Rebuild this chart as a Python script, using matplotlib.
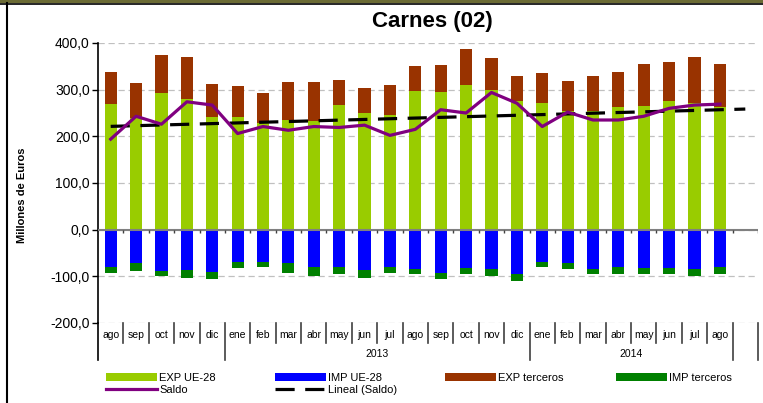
import numpy as np
import matplotlib
matplotlib.use("Agg")
import matplotlib.pyplot as plt
from matplotlib.patches import Rectangle
from matplotlib.lines import Line2D
from matplotlib.ticker import FuncFormatter
from matplotlib.transforms import blended_transform_factory

# ---- data (millones de euros), ago 2012 .. ago 2014 ----
months = ["ago", "sep", "oct", "nov", "dic",
          "ene", "feb", "mar", "abr", "may", "jun", "jul", "ago", "sep", "oct", "nov", "dic",
          "ene", "feb", "mar", "abr", "may", "jun", "jul", "ago", ""]
year_labels = ["", "2013", "2014", ""]
year_starts = [0, 5, 17, 25, 26]

exp_ue = [269, 239, 292, 281, 241, 241, 228, 236, 233, 267, 250, 245, 297,
          295, 310, 299, 275, 271, 254, 254, 262, 264, 275, 271, 262]
exp_terceros = [69, 75, 82, 89, 71, 66, 64, 80, 83, 53, 53, 65, 53,
                58, 77, 69, 54, 64, 64, 75, 75, 91, 84, 99, 93]
imp_ue = [-80, -72, -88, -86, -90, -69, -69, -72, -80, -80, -86, -80, -84,
          -92, -82, -84, -94, -69, -71, -84, -80, -82, -82, -84, -80]
imp_terceros = [-12, -16, -12, -17, -15, -14, -12, -20, -20, -16, -17, -12, -12,
                -13, -12, -16, -15, -12, -14, -12, -16, -14, -14, -16, -14]
saldo = [194, 243, 226, 274, 267, 206, 221, 213, 221, 219, 224, 202, 215,
         257, 250, 294, 271, 221, 252, 235, 235, 243, 260, 267, 269]

plt.rcParams["font.family"] = ["Liberation Sans", "DejaVu Sans"]

W, H = 763, 403
fig = plt.figure(figsize=(W / 100, H / 100), dpi=100)
ax = fig.add_axes([98 / W, (H - 323) / H, 660 / W, 280 / H])

x = np.arange(len(exp_ue))
bw = 0.48
b1 = ax.bar(x, exp_ue, bw, color="#99CC00", zorder=2)
b2 = ax.bar(x, imp_ue, bw, color="#0000FF", zorder=2)
b3 = ax.bar(x, exp_terceros, bw, bottom=exp_ue, color="#993300", zorder=2)
b4 = ax.bar(x, imp_terceros, bw, bottom=imp_ue, color="#008000", zorder=2)

# linear trend of saldo, extended one period forward (Excel style)
xt = np.arange(len(months))
coef = np.polyfit(x, saldo, 1)
l_trend, = ax.plot(xt, np.polyval(coef, xt), color="black", lw=2.3,
                   ls=(0, (6, 3.3)), zorder=4)
l_saldo, = ax.plot(x, saldo, color="#800080", lw=2.3, zorder=5)

ax.set_xlim(-0.5, len(months) - 0.5)
ax.set_ylim(-200, 400)
ax.set_yticks(range(-200, 401, 100))
ax.yaxis.set_major_formatter(FuncFormatter(lambda v, p: f"{v:.1f}".replace(".", ",")))
ax.yaxis.grid(True, color="#C0C0C0", ls=(0, (5, 3)), lw=0.9, zorder=0)
ax.set_axisbelow(True)
ax.axhline(0, color="#808080", lw=1.5, zorder=3)
ax.set_xticks([])
ax.tick_params(axis="y", length=4, width=1, labelsize=10, pad=2)
for s in ["top", "right", "bottom"]:
    ax.spines[s].set_visible(False)
ax.spines["left"].set_linewidth(1.2)

# small category ticks on the zero line
bounds = np.arange(len(months) + 1) - 0.5
ax.vlines(bounds[1:], -8, 0, color="#404040", lw=1, zorder=3)

# two-level category axis under the plot
tr = blended_transform_factory(ax.transData, ax.transAxes)
for i, m in enumerate(months):
    ax.text(i, -0.043, m, transform=tr, fontsize=7.5, ha="center", va="center")
for i, lab in enumerate(year_labels):
    mid = (year_starts[i] + year_starts[i + 1]) / 2 - 0.5
    ax.text(mid, -0.111, lab, transform=tr, fontsize=7.5, ha="center", va="center")
for b in bounds:
    low = -0.132 if (b + 0.5) in year_starts else -0.0714
    ax.plot([b, b], [0, low], transform=tr, color="#404040" if b > 0 else "black",
            lw=1.2, clip_on=False)

# title, y label
fig.text(432 / W, 1 - 22 / H, "Carnes (02)", fontsize=16, fontweight="bold",
         ha="center", va="center")
fig.text(22 / W, 1 - 195 / H, "Millones de Euros", rotation=90, fontsize=8,
         fontweight="bold", ha="center", va="center")

# legend in four columns
kw = dict(loc="upper left", frameon=False, fontsize=8, handlelength=4.6,
          handleheight=0.7, handletextpad=0.2, labelspacing=0.2,
          borderpad=0, borderaxespad=0)
top = 1 - 373 / H
fig.legend([b1, l_saldo], ["EXP UE-28", "Saldo"], bbox_to_anchor=(106 / W, top), **kw)
fig.legend([b2, l_trend], ["IMP UE-28", "Lineal (Saldo)"], bbox_to_anchor=(275 / W, top), **kw)
fig.legend([b3], ["EXP terceros"], bbox_to_anchor=(445 / W, top), **kw)
fig.legend([b4], ["IMP terceros"], bbox_to_anchor=(616 / W, top), **kw)

# outer chart frame
fig.add_artist(Rectangle((0, 1 - 3 / H), 1, 3 / H, transform=fig.transFigure,
                         color="#6B6B35", lw=0))
fig.add_artist(Line2D([0, 1], [1 - 3.5 / H] * 2, transform=fig.transFigure, color="black", lw=1.2))
fig.add_artist(Line2D([6.5 / W] * 2, [0, 1 - 3 / H], transform=fig.transFigure, color="black", lw=1.5))

fig.savefig("out.png", dpi=100)
